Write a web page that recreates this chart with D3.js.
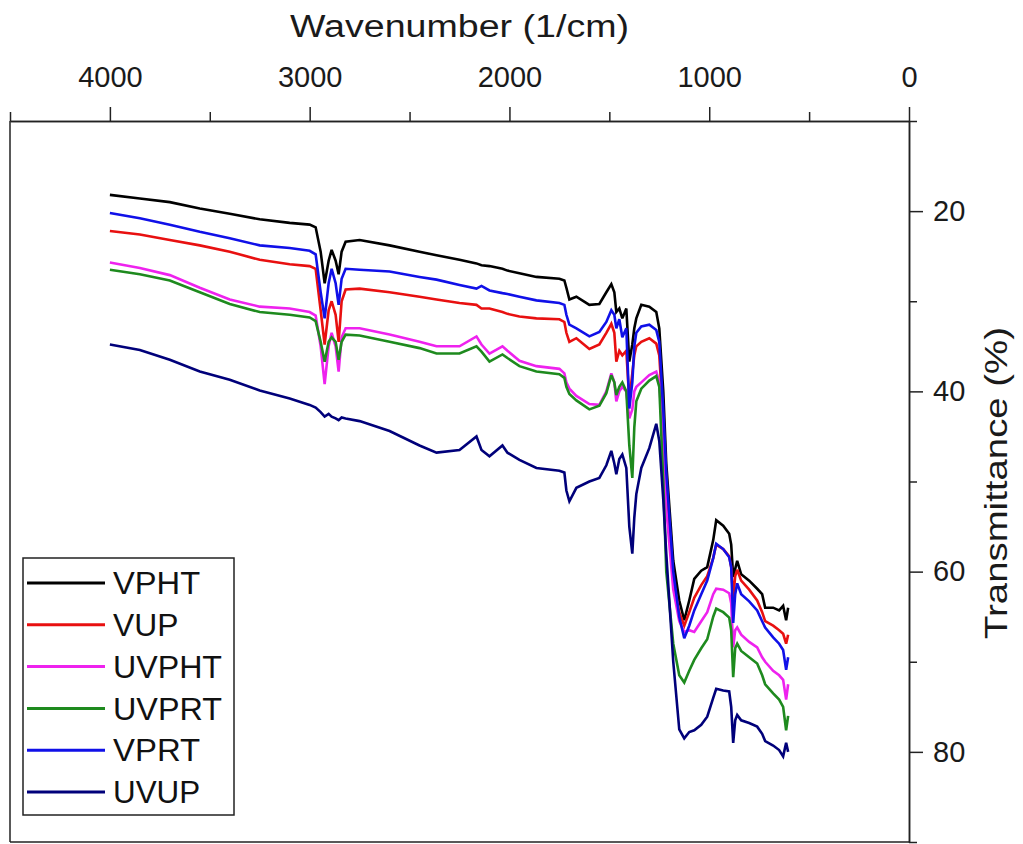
<!DOCTYPE html>
<html>
<head>
<meta charset="utf-8">
<script src="https://cdn.jsdelivr.net/npm/d3@7"></script>
<style>
  html, body { margin: 0; padding: 0; background: #fff; }
  svg { display: block; font-family: "Liberation Sans", Arial, sans-serif; }
</style>
</head>
<body>
<svg id="chart" width="1023" height="844"></svg>
<script>
// ---------------- DATA ----------------
const wavenumbers = [4000, 3850, 3700, 3550, 3400, 3250, 3100, 3000, 2970, 2945,
  2925, 2905, 2890, 2870, 2855, 2840, 2820, 2750, 2600, 2450,
  2365, 2250, 2165, 2140, 2100, 2035, 2010, 1950, 1865, 1750,
  1725, 1715, 1700, 1665, 1600, 1550, 1515, 1490, 1475, 1465,
  1450, 1435, 1415, 1400, 1385, 1375, 1365, 1340, 1300, 1265,
  1250, 1230, 1215, 1180, 1150, 1125, 1100, 1075, 1040, 1010,
  980, 965, 930, 900, 890, 880, 870, 860, 840, 800,
  760, 735, 720, 680, 650, 630, 615, 605];

const seriesNames = ["VPHT", "VUP", "UVPHT", "UVPRT", "VPRT", "UVUP"];

const VPHT = [18.2, 18.6, 19.0, 19.7, 20.3, 20.9, 21.3, 21.5, 21.8, 24.5,
  28.0, 25.5, 24.3, 25.5, 27.0, 24.5, 23.4, 23.2, 23.8, 24.5,
  24.9, 25.4, 25.8, 26.0, 26.1, 26.4, 26.6, 26.9, 27.3, 27.5,
  27.7, 28.5, 29.8, 29.5, 30.4, 30.3, 29.0, 28.1, 29.0, 31.2,
  30.8, 31.9, 30.8, 36.7, 34.8, 33.0, 31.9, 30.4, 30.6, 31.2,
  33.0, 40.0, 48.0, 58.8, 63.2, 65.4, 63.2, 60.8, 59.9, 59.5,
  56.5, 54.3, 54.9, 55.8, 57.0, 60.6, 59.7, 58.8, 60.3, 61.0,
  61.9, 62.5, 64.0, 64.0, 64.3, 63.8, 65.4, 64.0];

const VUP = [22.2, 22.6, 23.2, 23.8, 24.5, 25.4, 25.9, 26.1, 26.4, 31.0,
  34.8, 31.0, 30.0, 31.5, 34.5, 30.0, 28.7, 28.6, 29.0, 29.5,
  29.8, 30.2, 30.4, 30.8, 30.8, 31.2, 31.4, 31.7, 31.9, 32.0,
  32.3, 33.5, 34.5, 34.1, 35.3, 34.8, 33.5, 32.5, 33.5, 36.7,
  35.5, 36.0, 35.5, 41.0, 38.0, 36.0, 35.0, 34.5, 34.1, 34.7,
  36.0, 43.0, 50.0, 61.0, 64.5, 66.0, 64.5, 62.9, 61.5, 60.5,
  58.5, 57.0, 57.5, 58.3, 59.5, 63.0, 60.5, 59.8, 61.0, 62.0,
  63.2, 64.5, 65.5, 66.0, 66.5, 66.9, 68.0, 67.0];

const UVPHT = [25.7, 26.3, 27.1, 28.5, 29.8, 30.6, 30.8, 31.2, 31.6, 35.0,
  39.2, 35.0, 33.5, 35.0, 37.8, 34.0, 33.0, 33.0, 33.7, 34.5,
  35.0, 35.0, 33.9, 34.8, 35.8, 35.0, 35.5, 36.6, 37.2, 37.5,
  38.0, 39.0, 39.7, 40.5, 41.4, 41.5, 40.0, 38.0, 39.0, 41.1,
  40.0, 39.5, 40.0, 43.0, 42.0, 40.0, 39.5, 39.0, 38.2, 37.8,
  39.0, 46.0, 53.0, 62.0, 65.5, 66.7, 66.5, 66.7, 65.5, 64.5,
  62.5, 61.9, 62.0, 62.4, 63.5, 68.4, 66.5, 66.2, 67.0, 67.8,
  68.4, 69.5, 70.0, 71.0, 71.5, 72.0, 74.2, 72.5];

const UVPRT = [26.5, 27.0, 27.7, 29.0, 30.3, 31.2, 31.5, 31.8, 32.2, 34.5,
  36.7, 34.5, 34.0, 34.5, 36.5, 34.5, 33.7, 33.8, 34.5, 35.2,
  35.8, 35.8, 35.0, 35.6, 36.7, 35.9, 36.3, 37.2, 37.8, 38.1,
  38.5, 39.5, 40.3, 41.0, 42.0, 41.6, 40.2, 38.2, 39.0, 40.4,
  39.5, 39.0, 40.0, 46.0, 49.6, 44.0, 41.1, 39.7, 38.8, 38.3,
  39.5, 50.0, 60.0, 68.0, 71.5, 72.3, 71.0, 69.8, 68.5, 67.5,
  65.0, 64.1, 64.5, 65.1, 66.5, 71.7, 68.5, 68.0, 68.8, 69.5,
  70.2, 71.5, 72.5, 73.5, 74.2, 75.0, 77.6, 76.0];

const VPRT = [20.2, 20.8, 21.5, 22.3, 23.0, 23.8, 24.1, 24.4, 24.8, 29.0,
  31.9, 28.0, 26.4, 28.0, 30.4, 27.5, 26.4, 26.5, 26.7, 27.3,
  27.6, 28.2, 28.6, 28.3, 28.8, 29.1, 29.2, 29.5, 29.9, 30.2,
  30.4, 31.5, 32.6, 33.0, 33.9, 33.4, 32.3, 31.0, 31.5, 33.0,
  32.0, 34.0, 33.0, 41.9, 39.0, 35.0, 33.5, 32.8, 32.6, 33.2,
  34.5, 42.0, 49.0, 60.0, 65.0, 67.4, 66.0, 64.3, 62.5, 61.0,
  58.5, 56.9, 57.5, 58.4, 59.5, 65.7, 62.5, 61.3, 62.5, 63.3,
  64.3, 65.5, 66.2, 67.3, 68.0, 68.7, 70.9, 69.5];

const UVUP = [34.8, 35.4, 36.5, 37.8, 38.7, 39.9, 40.8, 41.5, 41.8, 42.3,
  42.8, 42.5, 42.8, 43.0, 43.2, 42.9, 43.0, 43.3, 44.4, 46.0,
  46.8, 46.5, 45.0, 46.5, 47.2, 46.0, 46.8, 47.6, 48.5, 48.8,
  49.0, 51.0, 52.2, 50.7, 50.0, 49.6, 48.2, 46.6, 48.0, 49.2,
  47.5, 47.0, 48.5, 55.0, 58.0, 54.0, 51.4, 48.5, 46.3, 43.6,
  45.5, 52.0, 58.0, 70.0, 77.5, 78.5, 77.8, 77.6, 77.0, 76.1,
  74.0, 73.0, 73.2, 73.3, 75.0, 79.0, 76.5, 75.9, 76.5, 76.8,
  77.2, 78.0, 78.8, 79.3, 79.8, 80.5, 79.0, 80.0];

const xMajorTicks = [4000, 3000, 2000, 1000, 0];
const xMinorTicks = [4500, 3500, 2500, 1500, 500];
const yMajorTicks = [20, 40, 60, 80];
const yMinorTicks = [10, 30, 50, 70, 90];

const xTitle = "Wavenumber (1/cm)";
const yTitle = "Transmittance (%)";

// ---------------- STYLE ----------------
const seriesValues = [VPHT, VUP, UVPHT, UVPRT, VPRT, UVUP];
const seriesColors = ["#000000", "#e81010", "#ee22ee", "#1e8a1e", "#1010e8", "#00007a"];

const svg = d3.select("#chart");
const plotL = 10, plotR = 909, plotT = 121, plotB = 842;

const x = d3.scaleLinear().domain([4500, 0]).range([plotL, plotR]);
const y = d3.scaleLinear().domain([10, 90]).range([plotT, plotB]);

const axisColor = "#222";
const fontFam = '"Liberation Sans", Arial, sans-serif';

// frame left & bottom
svg.append("line").attr("x1", x(4500)).attr("x2", x(4500)).attr("y1", y(10)).attr("y2", y(90))
  .attr("stroke", axisColor).attr("stroke-width", 1.5);
svg.append("line").attr("x1", x(4500)).attr("x2", x(0)).attr("y1", y(90)).attr("y2", y(90))
  .attr("stroke", axisColor).attr("stroke-width", 1.5);

// series lines
const line = d3.line().x((d) => x(d[0])).y((d) => y(d[1]));
seriesValues.forEach((vals, i) => {
  const pts = wavenumbers.map((w, j) => [w, vals[j]]);
  svg.append("path").datum(pts)
    .attr("d", line)
    .attr("fill", "none")
    .attr("stroke", seriesColors[i])
    .attr("stroke-width", 2.6)
    .attr("stroke-linejoin", "miter")
    .attr("stroke-miterlimit", 3);
});

// top axis (major)
const gTop = svg.append("g").attr("transform", `translate(0,${plotT})`)
  .call(d3.axisTop(x).tickValues(xMajorTicks).tickSize(14).tickSizeOuter(0).tickPadding(20).tickFormat(d3.format("d")));
const gTopMin = svg.append("g").attr("transform", `translate(0,${plotT})`)
  .call(d3.axisTop(x).tickValues(xMinorTicks).tickSize(9).tickSizeOuter(0).tickFormat(""));
// right axis
const gRight = svg.append("g").attr("transform", `translate(${plotR},0)`)
  .call(d3.axisRight(y).tickValues(yMajorTicks).tickSize(14).tickSizeOuter(0).tickPadding(10).tickFormat(d3.format("d")));
const gRightMin = svg.append("g").attr("transform", `translate(${plotR},0)`)
  .call(d3.axisRight(y).tickValues(yMinorTicks).tickSize(8).tickSizeOuter(0).tickFormat(""));

[gTop, gTopMin, gRight, gRightMin].forEach((g) => {
  g.selectAll("path.domain").attr("stroke", axisColor).attr("stroke-width", 1.5);
  g.selectAll(".tick line").attr("stroke", axisColor).attr("stroke-width", 1.5);
  g.selectAll(".tick text").attr("fill", "#1a1a1a").style("font-size", "29px").style("font-family", fontFam);
});

// axis titles
svg.append("text")
  .attr("x", (plotL + plotR) / 2).attr("y", 37)
  .attr("text-anchor", "middle")
  .attr("textLength", 339).attr("lengthAdjust", "spacingAndGlyphs")
  .style("font-size", "31px").style("font-family", fontFam).attr("fill", "#1a1a1a")
  .text(xTitle);

svg.append("text")
  .attr("transform", `translate(1007,${(330 + 636) / 2}) rotate(-90)`)
  .attr("text-anchor", "middle")
  .attr("textLength", 312).attr("lengthAdjust", "spacingAndGlyphs")
  .style("font-size", "31px").style("font-family", fontFam).attr("fill", "#1a1a1a")
  .text(yTitle);

// legend
const legend = svg.append("g");
legend.append("rect").attr("x", 23).attr("y", 558).attr("width", 211).attr("height", 257)
  .attr("fill", "#fff").attr("stroke", axisColor).attr("stroke-width", 1.5);
seriesNames.forEach((name, i) => {
  const cy = 583 + i * 41.8;
  legend.append("line").attr("x1", 27).attr("x2", 105).attr("y1", cy).attr("y2", cy)
    .attr("stroke", seriesColors[i]).attr("stroke-width", 3);
  legend.append("text").attr("x", 113).attr("y", cy).attr("dy", "0.35em")
    .attr("textLength", name.length * 21.8).attr("lengthAdjust", "spacingAndGlyphs")
    .style("font-size", "32px").style("font-family", fontFam).attr("fill", "#111")
    .text(name);
});
</script>
</body>
</html>
